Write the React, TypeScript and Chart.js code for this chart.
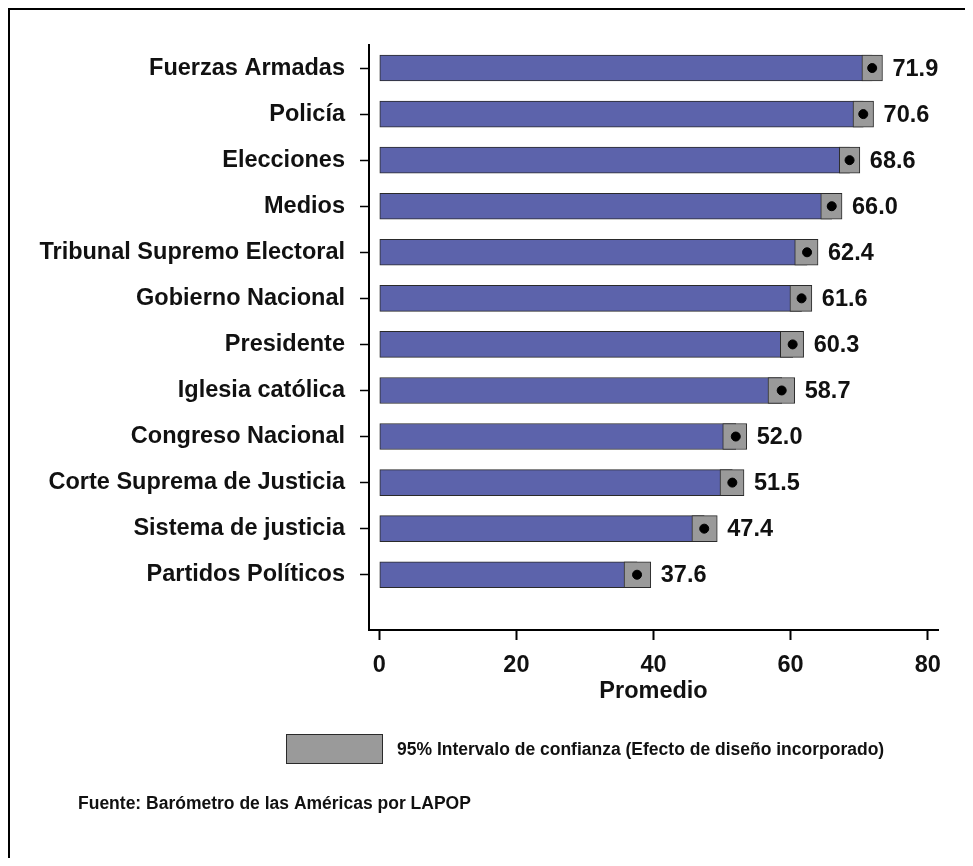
import React, { useEffect, useRef } from "react";
import { Chart, registerables } from "chart.js";

Chart.register(...registerables);

const categories = [
  "Fuerzas Armadas",
  "Policía",
  "Elecciones",
  "Medios",
  "Tribunal Supremo Electoral",
  "Gobierno Nacional",
  "Presidente",
  "Iglesia católica",
  "Congreso Nacional",
  "Corte Suprema de Justicia",
  "Sistema de justicia",
  "Partidos Políticos",
];
const means = [71.9, 70.6, 68.6, 66.0, 62.4, 61.6, 60.3, 58.7, 52.0, 51.5, 47.4, 37.6];
const ciLow = [70.4, 69.1, 67.1, 64.4, 60.6, 59.9, 58.5, 56.7, 50.1, 49.7, 45.6, 35.7];
const ciHigh = [73.4, 72.1, 70.1, 67.5, 64.0, 63.1, 61.9, 60.6, 53.6, 53.2, 49.3, 39.6];
const xTicks = [0, 20, 40, 60, 80];

const xTitle = "Promedio";
const legendText = "95% Intervalo de confianza (Efecto de diseño incorporado)";
const sourceText = "Fuente: Barómetro de las Américas por LAPOP";

const FONT = '"Liberation Sans", Arial, Helvetica, sans-serif';
const BLUE = "#5c63ab";
const GRAY = "#9a9a9a";
const EDGE = "#2a2a2a";

export default function App() {
  const ref = useRef<HTMLCanvasElement | null>(null);

  useEffect(() => {
    if (!ref.current) return;
    const extras = {
      id: "extras",
      afterDraw(chart: any) {
        const ctx = chart.ctx;
        const xs = chart.scales.x;
        const ys = chart.scales.y;
        ctx.save();
        // frame
        ctx.strokeStyle = "#000";
        ctx.lineWidth = 2;
        ctx.beginPath();
        ctx.moveTo(1, chart.height);
        ctx.lineTo(1, 1);
        ctx.lineTo(chart.width, 1);
        ctx.stroke();
        // value labels
        ctx.fillStyle = "#111";
        ctx.font = `bold 23.5px ${FONT}`;
        ctx.textBaseline = "middle";
        ctx.textAlign = "left";
        means.forEach((m, i) => {
          const x = xs.getPixelForValue(ciHigh[i]) + 10;
          const y = ys.getPixelForValue(i);
          ctx.fillText(m.toFixed(1), x, y + 1);
        });
        // x title
        ctx.textAlign = "center";
        ctx.fillText(xTitle, xs.getPixelForValue(40), 684);
        // legend
        ctx.fillStyle = GRAY;
        ctx.fillRect(278, 726, 96, 29);
        ctx.strokeStyle = EDGE;
        ctx.lineWidth = 1;
        ctx.strokeRect(278.5, 726.5, 96, 29);
        ctx.fillStyle = "#111";
        ctx.font = `bold 17.5px ${FONT}`;
        ctx.textAlign = "left";
        ctx.fillText(legendText, 389, 742);
        ctx.fillText(sourceText, 70, 796);
        ctx.restore();
      },
    };

    const chart = new Chart(ref.current, {
      type: "bar",
      data: {
        datasets: [
          {
            type: "line",
            data: means.map((m, i) => ({ x: m, y: i })),
            showLine: false,
            pointRadius: 4.5,
            pointBackgroundColor: "#000",
            pointBorderColor: "#000",
            order: 0,
          } as any,
          {
            data: means.map((_, i) => ({ x: [ciLow[i], ciHigh[i]], y: i })),
            backgroundColor: GRAY,
            borderColor: EDGE,
            borderWidth: 1,
            borderSkipped: false,
            barThickness: 26,
            grouped: false,
            order: 1,
          } as any,
          {
            data: means.map((m, i) => ({ x: m, y: i })),
            backgroundColor: BLUE,
            borderColor: EDGE,
            borderWidth: 1,
            borderSkipped: false,
            barThickness: 26,
            grouped: false,
            base: 0,
            order: 2,
          } as any,
        ],
      },
      options: {
        indexAxis: "y",
        responsive: false,
        animation: false,
        layout: { padding: { top: 37, bottom: 128, left: 0, right: 27 } },
        plugins: { legend: { display: false }, tooltip: { enabled: false } },
        scales: {
          x: {
            type: "linear",
            min: -1.5,
            max: 81.5,
            afterBuildTicks: (s: any) => {
              s.ticks = xTicks.map((v) => ({ value: v }));
            },
            afterFit: (s: any) => {
              s.height = 100;
            },
            grid: { drawOnChartArea: false, drawTicks: true, tickLength: 10, tickColor: "#000", tickWidth: 2 },
            border: { display: true, color: "#000", width: 2 },
            ticks: {
              color: "#111",
              padding: 11,
              font: { family: FONT, size: 23.5, weight: "bold" },
              maxRotation: 0,
            },
          },
          y: {
            type: "linear",
            reverse: true,
            offset: false,
            min: -0.5,
            max: 12.2,
            afterBuildTicks: (s: any) => {
              s.ticks = categories.map((_, i) => ({ value: i }));
            },
            afterFit: (s: any) => {
              s.width = 361;
            },
            grid: {
              offset: false,
              drawOnChartArea: false,
              drawTicks: true,
              tickLength: 9,
              tickColor: "#000",
              tickWidth: 1.5,
            },
            border: { display: true, color: "#000", width: 2 },
            ticks: {
              color: "#111",
              padding: 15,
              font: { family: FONT, size: 23.5, weight: "bold" },
              callback: (v: any) => categories[v as number] ?? "",
            },
          },
        },
      } as any,
      plugins: [extras],
    });
    return () => chart.destroy();
  }, []);

  return (
    <canvas
      ref={ref}
      width={957}
      height={850}
      style={{ display: "block", width: 957, height: 850 }}
    />
  );
}
